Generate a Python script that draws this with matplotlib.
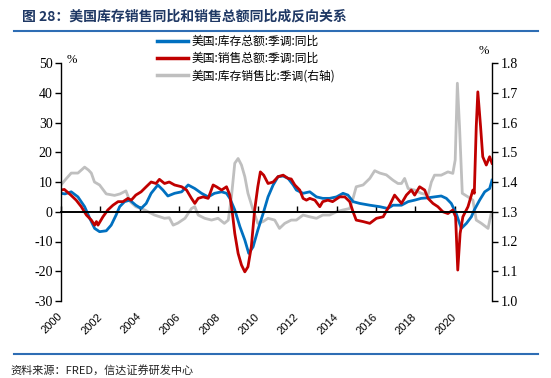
import matplotlib
matplotlib.use('Agg')
import matplotlib.pyplot as plt
from matplotlib.lines import Line2D

plt.rcParams['font.family'] = ['Noto Sans CJK SC', 'DejaVu Sans']
plt.rcParams['axes.unicode_minus'] = False

# 美国:库存总额:季调:同比 (%)
inv_t = [2000.0, 2000.2, 2000.52, 2000.86, 2001.2, 2001.46, 2001.71, 2001.96, 2002.3,
         2002.55, 2002.8, 2002.98, 2003.23, 2003.5, 2003.8, 2004.07, 2004.33, 2004.58,
         2004.92, 2005.18, 2005.43, 2005.77, 2006.13, 2006.46, 2006.8, 2007.14, 2007.48,
         2007.8, 2008.16, 2008.41, 2008.58, 2008.83, 2009.09, 2009.34, 2009.54, 2009.76,
         2010.0, 2010.27, 2010.52, 2010.78, 2011.03, 2011.29, 2011.54, 2011.8, 2011.96,
         2012.3, 2012.64, 2012.98, 2013.3, 2013.65, 2014.0, 2014.33, 2014.58, 2014.84,
         2015.18, 2015.69, 2016.2, 2016.6, 2016.87, 2017.3, 2017.64, 2017.97, 2018.3,
         2018.65, 2018.98, 2019.32, 2019.58, 2019.83, 2020.08, 2020.34, 2020.6, 2020.85,
         2021.0, 2021.27, 2021.53, 2021.78, 2021.9]
inv_yoy = [6.2, 6.0, 6.7, 5.0, 1.7, -2.2, -5.6, -6.7, -6.4,
           -4.5, -1.1, 1.7, 3.4, 3.9, 2.2, 1.1, 2.8, 6.2,
           9.0, 7.3, 5.3, 6.2, 6.7, 9.0, 7.8, 6.2, 5.0,
           6.2, 6.7, 6.2, 4.5, 0.6, -5.0, -9.5, -14.0, -11.8,
           -6.2, -0.6, 5.0, 9.0, 11.8, 12.0, 11.2, 9.0, 7.3,
           6.2, 6.7, 5.0, 4.5, 4.5, 5.0, 6.2, 5.6, 3.4,
           2.8, 2.2, 1.7, 1.1, 2.2, 2.2, 3.4, 3.9, 4.5,
           4.7, 5.0, 5.3, 4.5, 2.8, -0.6, -5.6, -3.9, -1.7,
           0.6, 3.9, 6.7, 7.8, 10.6]

# 美国:销售总额:季调:同比 (%)
sal_t = [2000.0, 2000.17, 2000.5, 2000.77, 2001.03, 2001.29, 2001.54, 2001.71, 2001.8,
         2001.88, 2002.13, 2002.38, 2002.64, 2002.9, 2003.15, 2003.4, 2003.57, 2003.8,
         2004.07, 2004.33, 2004.58, 2004.83, 2005.0, 2005.26, 2005.5, 2005.77, 2006.13,
         2006.38, 2006.63, 2006.8, 2006.97, 2007.22, 2007.48, 2007.73, 2007.9, 2008.16,
         2008.41, 2008.58, 2008.7, 2008.83, 2009.0, 2009.17, 2009.34, 2009.5, 2009.67,
         2009.84, 2010.0, 2010.13, 2010.3, 2010.52, 2010.78, 2011.03, 2011.29, 2011.54,
         2011.7, 2011.88, 2012.13, 2012.3, 2012.47, 2012.64, 2012.9, 2013.15, 2013.3,
         2013.56, 2013.8, 2014.16, 2014.42, 2014.67, 2014.84, 2015.0, 2015.35, 2015.69,
         2016.03, 2016.37, 2016.7, 2016.95, 2017.3, 2017.55, 2017.8, 2017.97, 2018.22,
         2018.48, 2018.65, 2018.9, 2019.15, 2019.4, 2019.66, 2019.91, 2020.05, 2020.16,
         2020.28, 2020.42, 2020.68, 2020.93, 2021.0, 2021.1, 2021.18, 2021.32, 2021.43,
         2021.61, 2021.78, 2021.9]
sal_yoy = [7.3, 7.5, 5.6, 3.9, 1.7, -1.1, -2.8, -4.5, -3.3,
           -4.5, -1.7, 0.6, 2.2, 3.4, 3.4, 4.5, 3.9, 5.6,
           6.7, 8.4, 10.0, 9.5, 10.9, 9.5, 10.0, 9.0, 8.4,
           7.3, 4.5, 2.8, 4.5, 5.0, 4.5, 9.0, 8.4, 7.3,
           8.4, 5.6, 0.0, -7.3, -14.0, -17.9, -20.2, -18.5, -11.8,
           0.6, 8.4, 13.4, 12.3, 9.5, 10.0, 11.8, 12.3, 11.2,
           11.0, 9.0, 7.3, 4.5, 3.9, 4.5, 3.9, 1.7, 3.4,
           3.9, 3.4, 5.0, 5.0, 3.4, 0.0, -2.8, -3.3, -3.9,
           -2.2, -1.7, 2.2, 5.6, 2.8, 5.6, 7.3, 5.6, 8.4,
           7.3, 4.5, 2.8, 1.7, 0.0, -0.6, 0.6, -1.7, -19.6,
           -7.3, -1.7, 1.7, 7.3, 6.2, 28.6, 40.3, 28.6, 18.5,
           15.7, 18.5, 16.3]

# 美国:库存销售比:季调 (右轴)
ratio_t = [2000.0, 2000.25, 2000.52, 2000.86, 2001.2, 2001.4, 2001.54, 2001.7, 2001.96,
           2002.3, 2002.72, 2003.0, 2003.15, 2003.3, 2003.5, 2003.8, 2004.25, 2004.75,
           2005.26, 2005.5, 2005.7, 2005.94, 2006.3, 2006.63, 2006.8, 2006.97, 2007.3,
           2007.65, 2007.98, 2008.3, 2008.5, 2008.66, 2008.83, 2009.0, 2009.17, 2009.34,
           2009.5, 2009.76, 2010.0, 2010.27, 2010.52, 2010.86, 2011.1, 2011.37, 2011.7,
           2011.96, 2012.3, 2012.64, 2012.98, 2013.3, 2013.65, 2014.0, 2014.33, 2014.67,
           2014.84, 2015.0, 2015.35, 2015.69, 2015.94, 2016.2, 2016.53, 2016.87, 2017.12,
           2017.3, 2017.46, 2017.64, 2017.97, 2018.3, 2018.65, 2018.82, 2018.98, 2019.32,
           2019.66, 2019.91, 2020.03, 2020.14, 2020.25, 2020.39, 2020.68, 2020.93, 2021.1,
           2021.36, 2021.7, 2021.86]
ratio = [1.39, 1.41, 1.43, 1.43, 1.45, 1.44, 1.43, 1.40, 1.39,
         1.36, 1.355, 1.36, 1.365, 1.37, 1.335, 1.317, 1.306, 1.289,
         1.278, 1.28, 1.255, 1.262, 1.278, 1.311, 1.317, 1.289, 1.278,
         1.272, 1.278, 1.261, 1.272, 1.35, 1.463, 1.479, 1.457, 1.418,
         1.362, 1.306, 1.261, 1.267, 1.278, 1.272, 1.244, 1.261, 1.272,
         1.272, 1.289, 1.283, 1.278, 1.289, 1.289, 1.30, 1.306, 1.311,
         1.345, 1.384, 1.39, 1.412, 1.438, 1.43, 1.424, 1.406, 1.395,
         1.395, 1.412, 1.378, 1.373, 1.362, 1.356, 1.40, 1.423, 1.423,
         1.434, 1.429, 1.474, 1.732, 1.586, 1.362, 1.35, 1.339, 1.272,
         1.261, 1.244, 1.295]

years = list(range(2000, 2021, 2))
labels = ['美国:库存总额:季调:同比', '美国:销售总额:季调:同比', '美国:库存销售比:季调(右轴)']
colors = ['#0070C0', '#C00000', '#BFBFBF']
serif = 'Liberation Serif'

fig = plt.figure(figsize=(5.51, 3.78), dpi=100)
ax = fig.add_axes([61 / 551, 1 - 301 / 378, 431 / 551, 238 / 378])
ax2 = ax.twinx()
ax.set_zorder(ax2.get_zorder() + 1)
ax.patch.set_visible(False)

ax2.plot(ratio_t, ratio, color=colors[2], lw=2)
ax.plot(inv_t, inv_yoy, color=colors[0], lw=2)
ax.plot(sal_t, sal_yoy, color=colors[1], lw=2)

ax.set_xlim(2000, 2021.9)
ax.set_ylim(-30, 50)
ax2.set_ylim(1.0, 1.8)
ax.set_yticks(range(-30, 51, 10))
ax2.set_yticks([1.0, 1.1, 1.2, 1.3, 1.4, 1.5, 1.6, 1.7, 1.8])
ax2.set_yticklabels(['%.1f' % v for v in ax2.get_yticks()])

for s in ['top', 'right']:
    ax.spines[s].set_visible(False)
for s in ['top', 'left', 'bottom']:
    ax2.spines[s].set_visible(False)
ax.spines['bottom'].set_position(('data', 0))
ax.spines['bottom'].set_linewidth(1.4)
ax.spines['left'].set_linewidth(1.0)
ax2.spines['right'].set_linewidth(1.0)

ax.set_xticks(years)
ax.tick_params(axis='x', direction='in', length=4, width=1, labelbottom=False)
ax.tick_params(axis='y', direction='out', length=4, width=1, pad=2)
ax2.tick_params(axis='y', direction='out', length=4, width=1, pad=2)
for t in ax.get_yticklabels() + ax2.get_yticklabels():
    t.set_fontfamily(serif)
    t.set_fontsize(10)

sec = ax.secondary_xaxis('bottom')
sec.set_xticks(years)
sec.set_xticklabels([str(y) for y in years], rotation=45, ha='right', va='center',
                    rotation_mode='anchor', fontfamily='Liberation Sans', fontsize=8)
sec.tick_params(axis='x', length=0, pad=10)
sec.spines['bottom'].set_visible(False)

fig.text(72 / 551, 1 - 60 / 378, '%', fontfamily=serif, fontsize=9, ha='center', va='center')
fig.text(484 / 551, 1 - 51 / 378, '%', fontfamily=serif, fontsize=9, ha='center', va='center')

handles = [Line2D([], [], color=c, lw=2.5) for c in colors]
fig.legend(handles, labels, loc='upper left', bbox_to_anchor=(157 / 551, 1 - 35 / 378),
           frameon=False, fontsize=8.5, handlelength=2.6, handletextpad=0.3,
           labelspacing=0.35, borderpad=0, borderaxespad=0)

fig.text(22 / 551, 1 - 17 / 378, '图 28：美国库存销售同比和销售总额同比成反向关系',
         fontsize=10, fontweight='bold', color='#1F3864', va='center')
fig.add_artist(Line2D([14 / 551, 538 / 551], [1 - 31 / 378, 1 - 31 / 378], color='#2E6DB4', lw=1.5))
fig.add_artist(Line2D([14 / 551, 538 / 551], [1 - 354 / 378, 1 - 354 / 378], color='#2E6DB4', lw=1.5))
fig.text(10 / 551, 1 - 370 / 378, '资料来源：FRED，信达证券研发中心', fontsize=8,
         style='italic', color='#222222', va='center')

fig.savefig('out.png', dpi=100)
